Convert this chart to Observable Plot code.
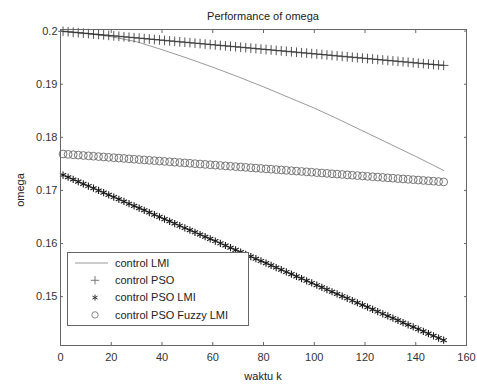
<!DOCTYPE html>
<html>
<head>
<meta charset="utf-8">
<script src="https://cdn.jsdelivr.net/npm/d3@7"></script>
<script src="https://cdn.jsdelivr.net/npm/@observablehq/plot@0.6"></script>
<style>
  body { margin: 0; background: #fff; font-family: "Liberation Sans", Arial, sans-serif; }
  #wrap { position: relative; width: 477px; height: 386px; background: #fff; }
  .lab { position: absolute; font-size: 11px; color: #222; white-space: nowrap; }
  #title { left: 263px; top: 10px; transform: translateX(-50%); }
  #xlab { left: 263px; top: 370px; transform: translateX(-50%); }
  #ylab { left: 20px; top: 190px; transform: translate(-50%, -50%) rotate(-90deg); }
  #legend { position: absolute; left: 67px; top: 252px; }
</style>
</head>
<body>
<div id="wrap">
  <div id="chart"></div>
  <div class="lab" id="title">Performance of omega</div>
  <div class="lab" id="xlab">waktu k</div>
  <div class="lab" id="ylab">omega</div>
  <div id="legend"></div>
</div>
<script>
// ---- data ----
const xTicks = [0, 20, 40, 60, 80, 100, 120, 140, 160];
const yTicks = [0.15, 0.16, 0.17, 0.18, 0.19, 0.2];
const legendLabels = ["control LMI", "control PSO", "control PSO LMI", "control PSO Fuzzy LMI"];

// control LMI (thin gray line)
const lmiK = [0, 10, 20, 30, 40, 50, 60, 70, 80, 90, 100, 110, 120, 130, 140, 150, 151];
const lmiValues = [0.2000, 0.19955, 0.19895, 0.1980, 0.1965, 0.1949, 0.1932, 0.1914, 0.1895, 0.1875, 0.1855, 0.1833, 0.1810, 0.1787, 0.1764, 0.1740, 0.17375];

// sample instants of the markers
const markK = [1, 3, 5, 7, 9, 11, 13, 15, 17, 19, 21, 23, 25, 27, 29, 31, 33, 35, 37, 39,
  41, 43, 45, 47, 49, 51, 53, 55, 57, 59, 61, 63, 65, 67, 69, 71, 73, 75, 77, 79,
  81, 83, 85, 87, 89, 91, 93, 95, 97, 99, 101, 103, 105, 107, 109, 111, 113, 115, 117, 119,
  121, 123, 125, 127, 129, 131, 133, 135, 137, 139, 141, 143, 145, 147, 149, 151];

// control PSO (+)
const psoValues = [0.19996, 0.19987, 0.19979, 0.19970, 0.19961, 0.19953, 0.19944, 0.19936, 0.19927, 0.19919,
  0.19910, 0.19902, 0.19893, 0.19884, 0.19876, 0.19867, 0.19859, 0.19850, 0.19842, 0.19833,
  0.19825, 0.19816, 0.19807, 0.19799, 0.19790, 0.19782, 0.19773, 0.19765, 0.19756, 0.19747,
  0.19739, 0.19730, 0.19722, 0.19713, 0.19705, 0.19696, 0.19688, 0.19679, 0.19670, 0.19662,
  0.19653, 0.19645, 0.19636, 0.19628, 0.19619, 0.19611, 0.19602, 0.19593, 0.19585, 0.19576,
  0.19568, 0.19559, 0.19551, 0.19542, 0.19533, 0.19525, 0.19516, 0.19508, 0.19499, 0.19491,
  0.19482, 0.19474, 0.19465, 0.19456, 0.19448, 0.19439, 0.19431, 0.19422, 0.19414, 0.19405,
  0.19396, 0.19388, 0.19379, 0.19371, 0.19362, 0.19354];

// control PSO LMI (*)
const psoLmiValues = [0.17289, 0.17248, 0.17206, 0.17165, 0.17123, 0.17082, 0.17041, 0.16999, 0.16958, 0.16916,
  0.16875, 0.16833, 0.16792, 0.16750, 0.16709, 0.16667, 0.16626, 0.16584, 0.16543, 0.16502,
  0.16460, 0.16419, 0.16377, 0.16336, 0.16294, 0.16253, 0.16211, 0.16170, 0.16128, 0.16087,
  0.16046, 0.16004, 0.15963, 0.15921, 0.15880, 0.15838, 0.15797, 0.15755, 0.15714, 0.15672,
  0.15631, 0.15589, 0.15548, 0.15507, 0.15465, 0.15424, 0.15382, 0.15341, 0.15299, 0.15258,
  0.15216, 0.15175, 0.15133, 0.15092, 0.15050, 0.15009, 0.14968, 0.14926, 0.14885, 0.14843,
  0.14802, 0.14760, 0.14719, 0.14677, 0.14636, 0.14594, 0.14553, 0.14511, 0.14470, 0.14429,
  0.14387, 0.14346, 0.14304, 0.14263, 0.14221, 0.14180];

// control PSO Fuzzy LMI (o)
const fuzzyValues = [0.17686, 0.17679, 0.17672, 0.17665, 0.17658, 0.17651, 0.17644, 0.17637, 0.17630, 0.17623,
  0.17616, 0.17609, 0.17602, 0.17595, 0.17588, 0.17581, 0.17574, 0.17567, 0.17560, 0.17553,
  0.17546, 0.17539, 0.17532, 0.17525, 0.17518, 0.17511, 0.17504, 0.17497, 0.17490, 0.17483,
  0.17476, 0.17469, 0.17462, 0.17455, 0.17448, 0.17441, 0.17434, 0.17427, 0.17420, 0.17413,
  0.17406, 0.17399, 0.17392, 0.17385, 0.17378, 0.17371, 0.17364, 0.17357, 0.17350, 0.17343,
  0.17335, 0.17328, 0.17321, 0.17314, 0.17307, 0.17300, 0.17293, 0.17286, 0.17279, 0.17272,
  0.17265, 0.17258, 0.17251, 0.17244, 0.17237, 0.17230, 0.17223, 0.17216, 0.17209, 0.17202,
  0.17195, 0.17188, 0.17181, 0.17174, 0.17167, 0.17160];

// ---- tables ----
const lmi = lmiK.map((k, i) => ({k, v: lmiValues[i]}));
const pso = markK.map((k, i) => ({k, v: psoValues[i]}));
const psoLmi = markK.map((k, i) => ({k, v: psoLmiValues[i]}));
const fuzzy = markK.map((k, i) => ({k, v: fuzzyValues[i]}));

const axisColor = "#666";
const chart = Plot.plot({
  width: 477,
  height: 386,
  marginLeft: 60,
  marginRight: 11,
  marginTop: 29,
  marginBottom: 41,
  style: {fontFamily: "Liberation Sans, Arial, sans-serif", fontSize: "11px", color: "#333", background: "#fff", overflow: "visible"},
  x: {domain: [0, 160]},
  y: {domain: [0.1408, 0.2003]},
  marks: [
    Plot.line(lmi, {x: "k", y: "v", stroke: "#9a9a9a", strokeWidth: 1}),
    Plot.dot(pso, {x: "k", y: "v", symbol: "plus", r: 3.2, stroke: "#2a2a2a", strokeWidth: 0.8}),
    Plot.dot(psoLmi, {x: "k", y: "v", symbol: "asterisk", r: 3.4, stroke: "#1a1a1a", strokeWidth: 1.1}),
    Plot.dot(fuzzy, {x: "k", y: "v", symbol: "circle", r: 3.9, stroke: "#777", fill: "none", strokeWidth: 1}),
    Plot.frame({stroke: axisColor}),
    Plot.axisX(xTicks, {anchor: "bottom", tickSize: -3, tickPadding: 11, stroke: axisColor, label: null, tickFormat: d => String(d)}),
    Plot.axisX(xTicks, {anchor: "top", tickSize: -3, stroke: axisColor, label: null, tickFormat: () => ""}),
    Plot.axisY(yTicks, {anchor: "left", tickSize: -3, tickPadding: 6, stroke: axisColor, label: null, tickFormat: d => String(d)}),
    Plot.axisY(yTicks, {anchor: "right", tickSize: -3, stroke: axisColor, label: null, tickFormat: () => ""})
  ]
});
document.getElementById("chart").appendChild(chart);

// ---- legend ----
const lw = 182, lh = 74;
const leg = d3.select("#legend").append("svg").attr("width", lw).attr("height", lh)
  .style("font-family", "Liberation Sans, Arial, sans-serif").style("font-size", "11px");
leg.append("rect").attr("x", 0.5).attr("y", 0.5).attr("width", lw - 1).attr("height", lh - 1)
  .attr("fill", "#fff").attr("stroke", "#666");
const rowY = i => 11 + i * 17.3;
const symX = 28;
legendLabels.forEach((lab, i) => {
  const y = rowY(i);
  if (i === 0) {
    leg.append("line").attr("x1", 8).attr("x2", 41).attr("y1", y).attr("y2", y).attr("stroke", "#9a9a9a");
  } else {
    const sym = [null, d3.symbolPlus, d3.symbolAsterisk, d3.symbolCircle][i];
    const r = i === 3 ? 3.2 : 2.8;
    leg.append("path").attr("d", d3.symbol(sym, Math.PI * r * r)())
      .attr("transform", `translate(${symX},${y})`)
      .attr("fill", "none")
      .attr("stroke", i === 1 ? "#777" : i === 2 ? "#333" : "#888")
      .attr("stroke-width", 1);
  }
  leg.append("text").attr("x", 48).attr("y", y).attr("dy", "0.35em").attr("fill", "#222").text(lab);
});
</script>
</body>
</html>
